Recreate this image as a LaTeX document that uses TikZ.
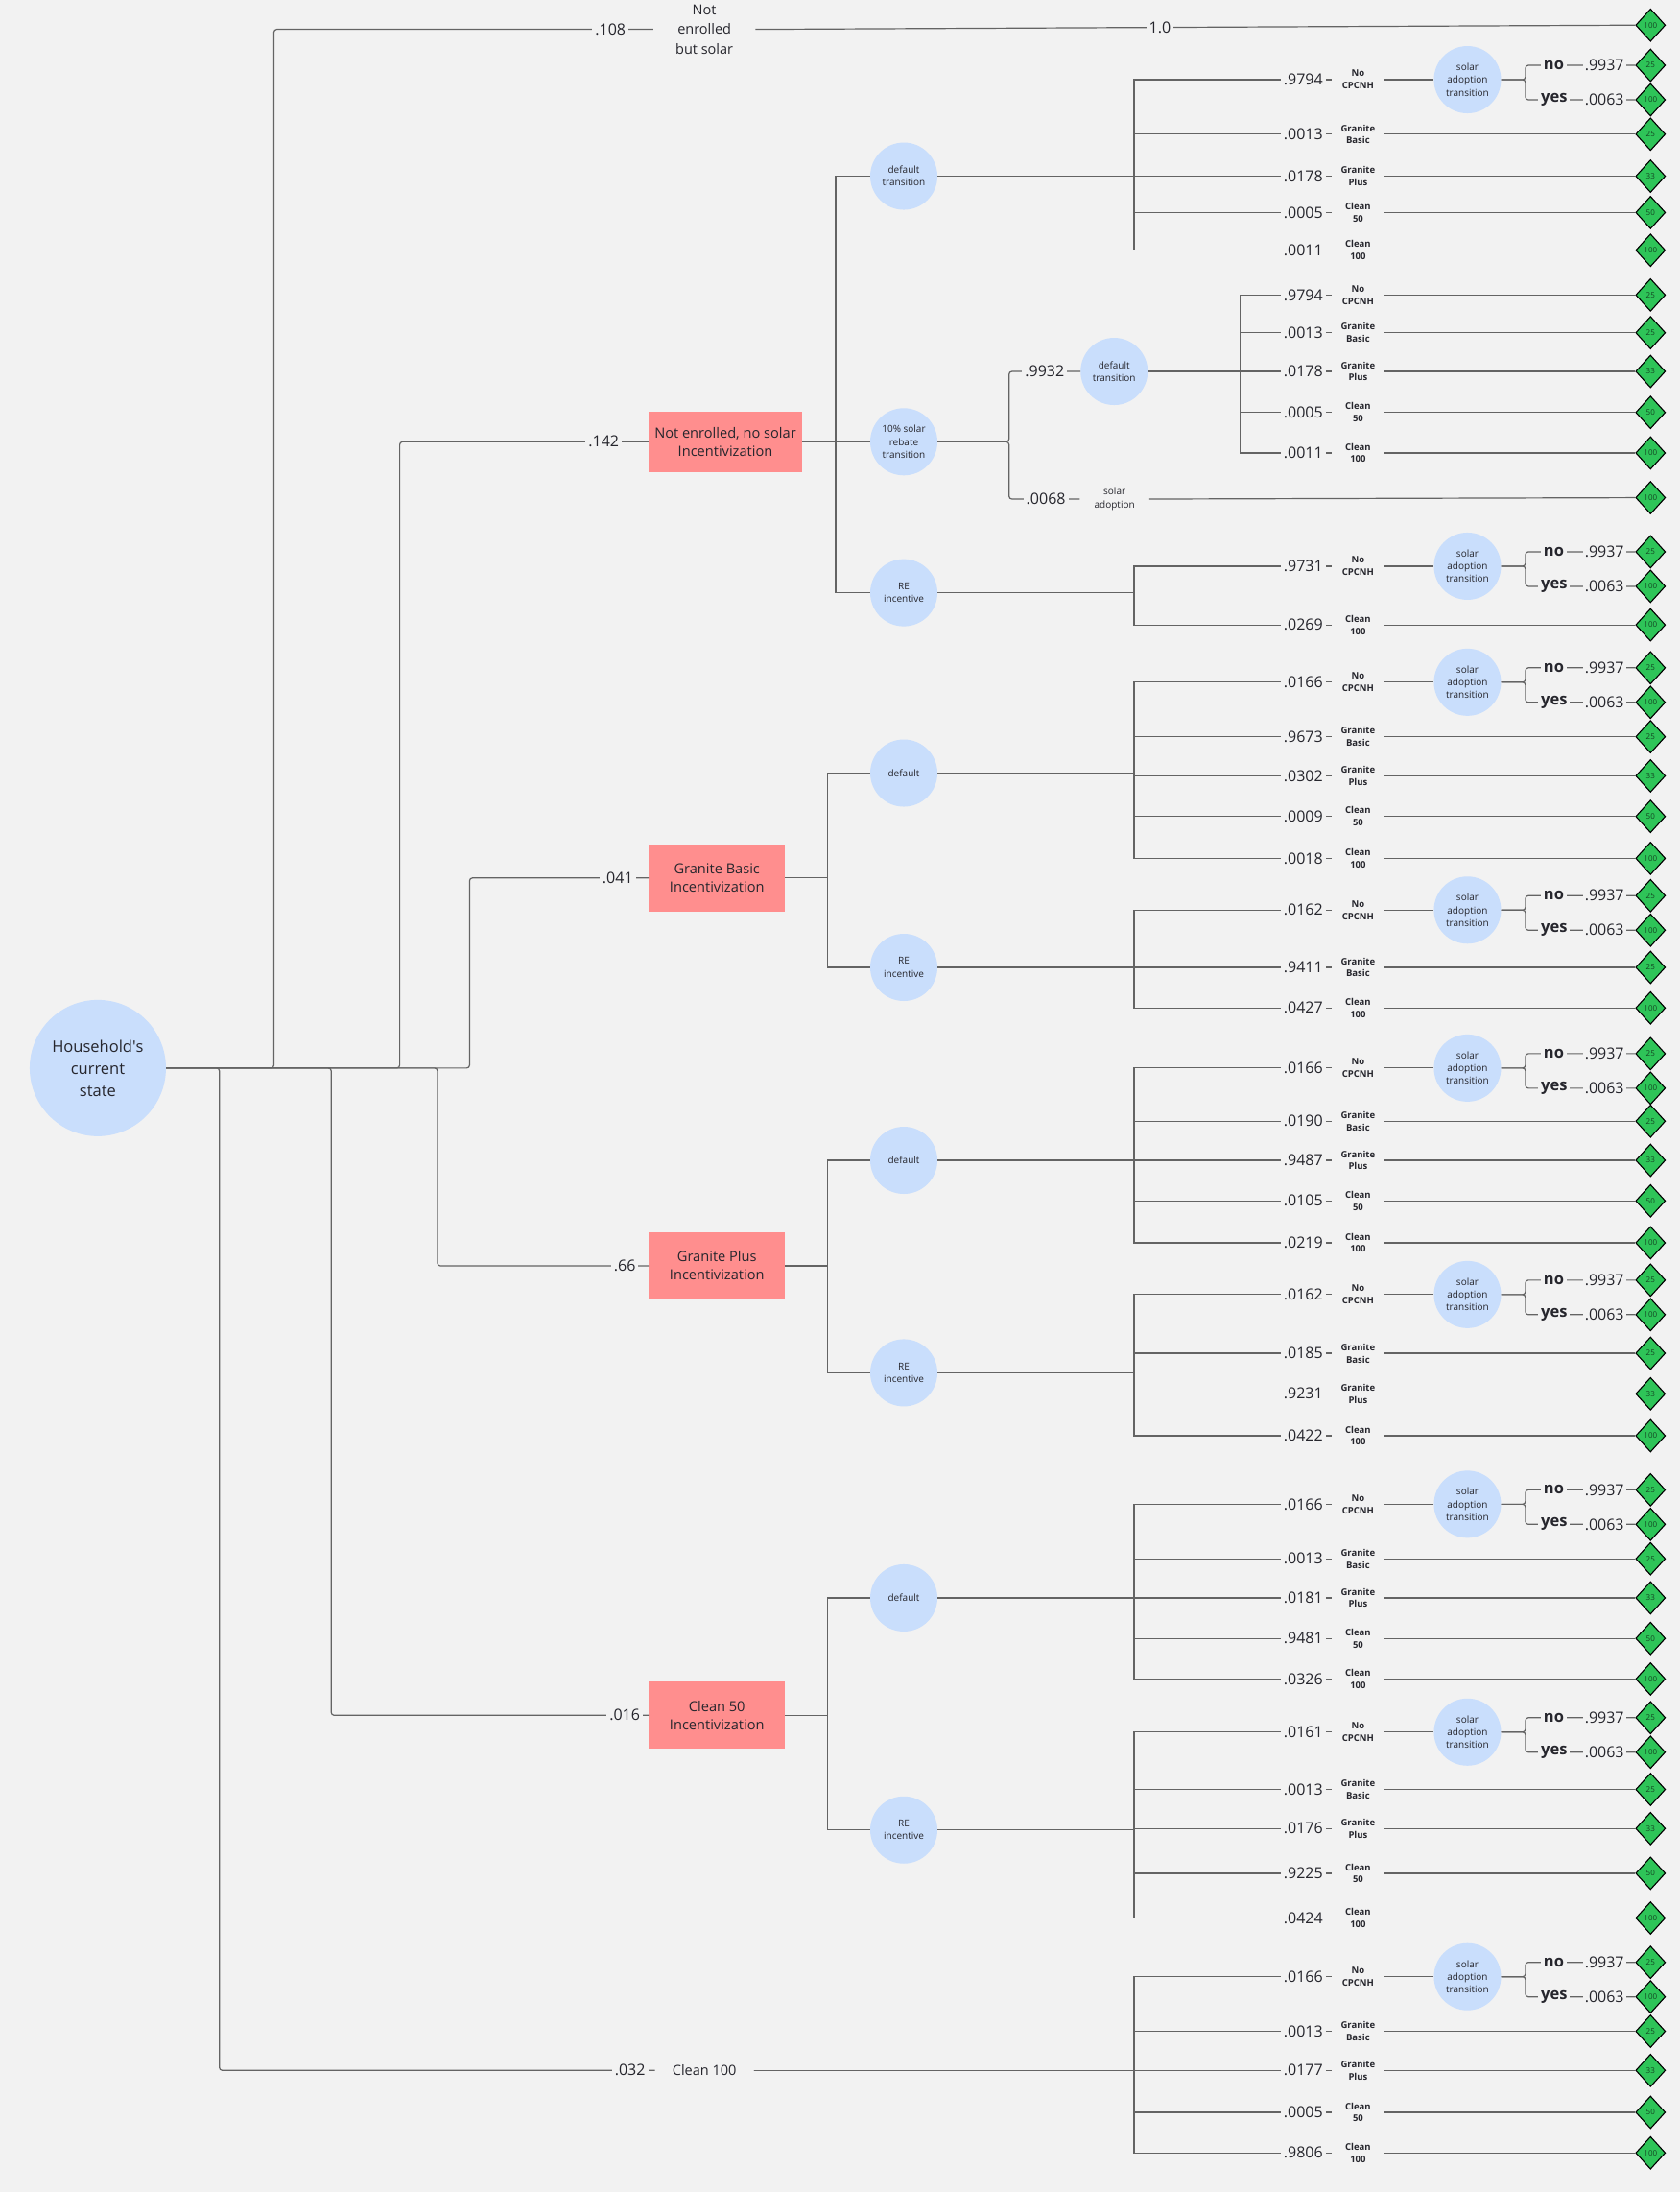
\documentclass[tikz,border=0pt]{standalone}
\usepackage{fontspec}
\setmainfont{Open Sans}
\usetikzlibrary{shapes.geometric}
\definecolor{bg}{RGB}{242,242,242}
\definecolor{cblue}{RGB}{201,222,252}
\definecolor{rpink}{RGB}{255,142,142}
\definecolor{dgreen}{RGB}{46,196,88}
\definecolor{edgecol}{RGB}{100,100,100}
\definecolor{txt}{RGB}{38,38,45}
\definecolor{dtxt}{RGB}{20,70,35}
\newcounter{leafn}
\tikzset{
 edge/.style={draw=edgecol, line width=1.2pt},
 redge/.style={draw=edgecol, line width=1.2pt, rounded corners=3pt},
 chance/.style={circle, fill=cblue, minimum size=70pt, inner sep=0pt, align=center, text=txt, font=\fontsize{10}{13.3}\selectfont},
 rootnode/.style={circle, fill=cblue, minimum size=142pt, inner sep=0pt, align=center, text=txt, font=\fontsize{16.5}{23}\selectfont},
 stratbox/.style={rectangle, fill=rpink, minimum width=142pt, minimum height=70pt, align=center, text=txt, font=\fontsize{14.6}{19}\selectfont},
 leafd/.style={diamond, draw=black, line width=1.1pt, fill=dgreen, minimum width=31pt, minimum height=34pt, inner sep=0pt, text=dtxt, font=\fontsize{8}{8}\selectfont},
 prob/.style={fill=bg, inner xsep=3pt, inner ysep=1pt, text=txt, font=\fontsize{16}{18}\selectfont},
 catlab/.style={fill=bg, minimum width=55pt, inner xsep=0pt, inner ysep=1pt, align=center, text=txt, font=\bfseries\fontsize{9.5}{12.8}\selectfont},
 yn/.style={fill=bg, inner xsep=3pt, inner ysep=0pt, text=txt, font=\bfseries\fontsize{16.5}{18}\selectfont},
 plain/.style={fill=bg, align=center, text=txt},
}
% #1 parent, #2 vertical x, #3 row y, #4 prob, #5 category, #6 diamond text
\newcommand\CatRow[6]{%
 \stepcounter{leafn}%
 \edef\lfnm{lf\arabic{leafn}}%
 \node[leafd] (\lfnm) at (1181,#3) {#6};
 \draw[edge] (#1.east) -| (#2,#3) -- (\lfnm.west);
 \node[prob, anchor=east] at (948.7,#3) {#4};
 \node[catlab] at (971.7,#3) {#5};
}
% #1 parent, #2 vertical x, #3 row y, #4 prob
\newcommand\SolarRow[4]{%
 \stepcounter{leafn}%
 \edef\snm{sr\arabic{leafn}}%
 \node[chance] (\snm-c) at (1050,#3) {solar\\adoption\\transition};
 \draw[edge] (#1.east) -| (#2,#3) -- (\snm-c.west);
 \node[prob, anchor=east] at (948.7,#3) {#4};
 \node[catlab] at (971.7,#3) {No\\CPCNH};
 \node[leafd] (\snm-n) at (1181,#3-10.3) {25};
 \node[leafd] (\snm-y) at (1181,#3+14.4) {100};
 \draw[redge] (\snm-c.east) -| (1091.5,#3-10.3) -- (\snm-n.west);
 \draw[redge] (\snm-c.east) -| (1091.5,#3+14.4) -- (\snm-y.west);
 \node[yn] at (1111.8,#3-10.3) {no};
 \node[prob, anchor=east, inner xsep=2pt] at (1163.5,#3-10.3) {.9937};
 \node[yn] at (1112,#3+14.4) {yes};
 \node[prob, anchor=east, inner xsep=2pt] at (1163.5,#3+14.4) {.0063};
}
\begin{document}
\begin{tikzpicture}[x=1.4567pt, y=-1.4567pt]
\useasboundingbox (0,0) rectangle (1202,1568);
\fill[bg] (0,0) rectangle (1202,1568);

% root and level 1
\node[rootnode] (root) at (70,764) {Household\textquotesingle s\\current\\state};
\node[plain, inner xsep=23pt, font=\fontsize{14.5}{20.5}\selectfont] (nsolar) at (504,21) {Not\\enrolled\\but solar};
\node[stratbox, minimum width=160pt, minimum height=63pt] (sA) at (519,316) {Not enrolled, no solar\\Incentivization};
\node[stratbox] (sB) at (513,628) {Granite Basic\\Incentivization};
\node[stratbox] (sC) at (513,905.5) {Granite Plus\\Incentivization};
\node[stratbox] (sD) at (513,1227) {Clean 50\\Incentivization};
\node[plain, inner xsep=18pt, font=\fontsize{14.5}{18}\selectfont] (sE) at (504,1481) {Clean 100};

\draw[redge] (root.east) -| (196,21) -- (nsolar.west);
\draw[redge] (root.east) -| (286,316) -- (sA.west);
\draw[redge] (root.east) -| (336,628) -- (sB.west);
\draw[redge] (root.east) -| (313,905.5) -- (sC.west);
\draw[redge] (root.east) -| (237,1227) -- (sD.west);
\draw[redge] (root.east) -| (157,1481) -- (sE.west);

\node[prob] at (436.8,21) {.108};
\node[prob] at (432,316) {.142};
\node[prob] at (442,628) {.041};
\node[prob] at (447,905.5) {.66};
\node[prob] at (447,1227) {.016};
\node[prob] at (450.8,1481) {.032};

% top branch
\node[leafd] (d0) at (1181,18) {100};
\draw[edge] (nsolar.east) -- (d0.west);
\node[prob] at (830,19.5) {1.0};

% ---------- Group A ----------
\node[chance] (aDef) at (646.7,126) {default\\transition};
\node[chance] (aReb) at (646.7,316) {10\% solar\\rebate\\transition};
\node[chance] (aRE) at (646.7,424) {RE\\incentive};
\draw[edge] (sA.east) -| (598,126) -- (aDef.west);
\draw[edge] (sA.east) -| (598,316) -- (aReb.west);
\draw[edge] (sA.east) -| (598,424) -- (aRE.west);

\SolarRow{aDef}{811.5}{57}{.9794}
\CatRow{aDef}{811.5}{96}{.0013}{Granite\\Basic}{25}
\CatRow{aDef}{811.5}{126}{.0178}{Granite\\Plus}{33}
\CatRow{aDef}{811.5}{152}{.0005}{Clean\\50}{50}
\CatRow{aDef}{811.5}{179}{.0011}{Clean\\100}{100}

\node[chance] (aRD) at (797.2,265.7) {default\\transition};
\node[plain, inner xsep=15pt, font=\fontsize{10}{13.3}\selectfont] (aSA) at (797.5,357) {solar\\adoption};
\draw[redge] (aReb.east) -| (722,265.7) -- (aRD.west);
\draw[redge] (aReb.east) -| (722,357) -- (aSA.west);
\node[prob] at (747.5,265.7) {.9932};
\node[prob] at (748.4,357) {.0068};
\node[leafd] (dSA) at (1181,356) {100};
\draw[edge] (aSA.east) -- (dSA.west);

\CatRow{aRD}{887.4}{211}{.9794}{No\\CPCNH}{25}
\CatRow{aRD}{887.4}{238}{.0013}{Granite\\Basic}{25}
\CatRow{aRD}{887.4}{265.7}{.0178}{Granite\\Plus}{33}
\CatRow{aRD}{887.4}{295}{.0005}{Clean\\50}{50}
\CatRow{aRD}{887.4}{324}{.0011}{Clean\\100}{100}

\SolarRow{aRE}{811.5}{405}{.9731}
\CatRow{aRE}{811.5}{447}{.0269}{Clean\\100}{100}

% ---------- Group B ----------
\node[chance] (bDef) at (646.7,553) {default};
\node[chance] (bRE) at (646.7,692) {RE\\incentive};
\draw[edge] (sB.east) -| (592.2,553) -- (bDef.west);
\draw[edge] (sB.east) -| (592.2,692) -- (bRE.west);

\SolarRow{bDef}{811.5}{488}{.0166}
\CatRow{bDef}{811.5}{527}{.9673}{Granite\\Basic}{25}
\CatRow{bDef}{811.5}{555}{.0302}{Granite\\Plus}{33}
\CatRow{bDef}{811.5}{584}{.0009}{Clean\\50}{50}
\CatRow{bDef}{811.5}{614}{.0018}{Clean\\100}{100}

\SolarRow{bRE}{811.5}{651}{.0162}
\CatRow{bRE}{811.5}{692}{.9411}{Granite\\Basic}{25}
\CatRow{bRE}{811.5}{721}{.0427}{Clean\\100}{100}

% ---------- Group C ----------
\node[chance] (cDef) at (646.7,830) {default};
\node[chance] (cRE) at (646.7,982) {RE\\incentive};
\draw[edge] (sC.east) -| (592.2,830) -- (cDef.west);
\draw[edge] (sC.east) -| (592.2,982) -- (cRE.west);

\SolarRow{cDef}{811.5}{764}{.0166}
\CatRow{cDef}{811.5}{802}{.0190}{Granite\\Basic}{25}
\CatRow{cDef}{811.5}{830}{.9487}{Granite\\Plus}{33}
\CatRow{cDef}{811.5}{859}{.0105}{Clean\\50}{50}
\CatRow{cDef}{811.5}{889}{.0219}{Clean\\100}{100}

\SolarRow{cRE}{811.5}{926}{.0162}
\CatRow{cRE}{811.5}{968}{.0185}{Granite\\Basic}{25}
\CatRow{cRE}{811.5}{997}{.9231}{Granite\\Plus}{33}
\CatRow{cRE}{811.5}{1027}{.0422}{Clean\\100}{100}

% ---------- Group D ----------
\node[chance] (dDef) at (646.7,1143) {default};
\node[chance] (dRE) at (646.7,1309) {RE\\incentive};
\draw[edge] (sD.east) -| (592.2,1143) -- (dDef.west);
\draw[edge] (sD.east) -| (592.2,1309) -- (dRE.west);

\SolarRow{dDef}{811.5}{1076}{.0166}
\CatRow{dDef}{811.5}{1115}{.0013}{Granite\\Basic}{25}
\CatRow{dDef}{811.5}{1143}{.0181}{Granite\\Plus}{33}
\CatRow{dDef}{811.5}{1172}{.9481}{Clean\\50}{50}
\CatRow{dDef}{811.5}{1201}{.0326}{Clean\\100}{100}

\SolarRow{dRE}{811.5}{1239}{.0161}
\CatRow{dRE}{811.5}{1280}{.0013}{Granite\\Basic}{25}
\CatRow{dRE}{811.5}{1308}{.0176}{Granite\\Plus}{33}
\CatRow{dRE}{811.5}{1340}{.9225}{Clean\\50}{50}
\CatRow{dRE}{811.5}{1372}{.0424}{Clean\\100}{100}

% ---------- Group E ----------
\SolarRow{sE}{811.5}{1414}{.0166}
\CatRow{sE}{811.5}{1453}{.0013}{Granite\\Basic}{25}
\CatRow{sE}{811.5}{1481}{.0177}{Granite\\Plus}{33}
\CatRow{sE}{811.5}{1511}{.0005}{Clean\\50}{50}
\CatRow{sE}{811.5}{1540}{.9806}{Clean\\100}{100}

\end{tikzpicture}
\end{document}
